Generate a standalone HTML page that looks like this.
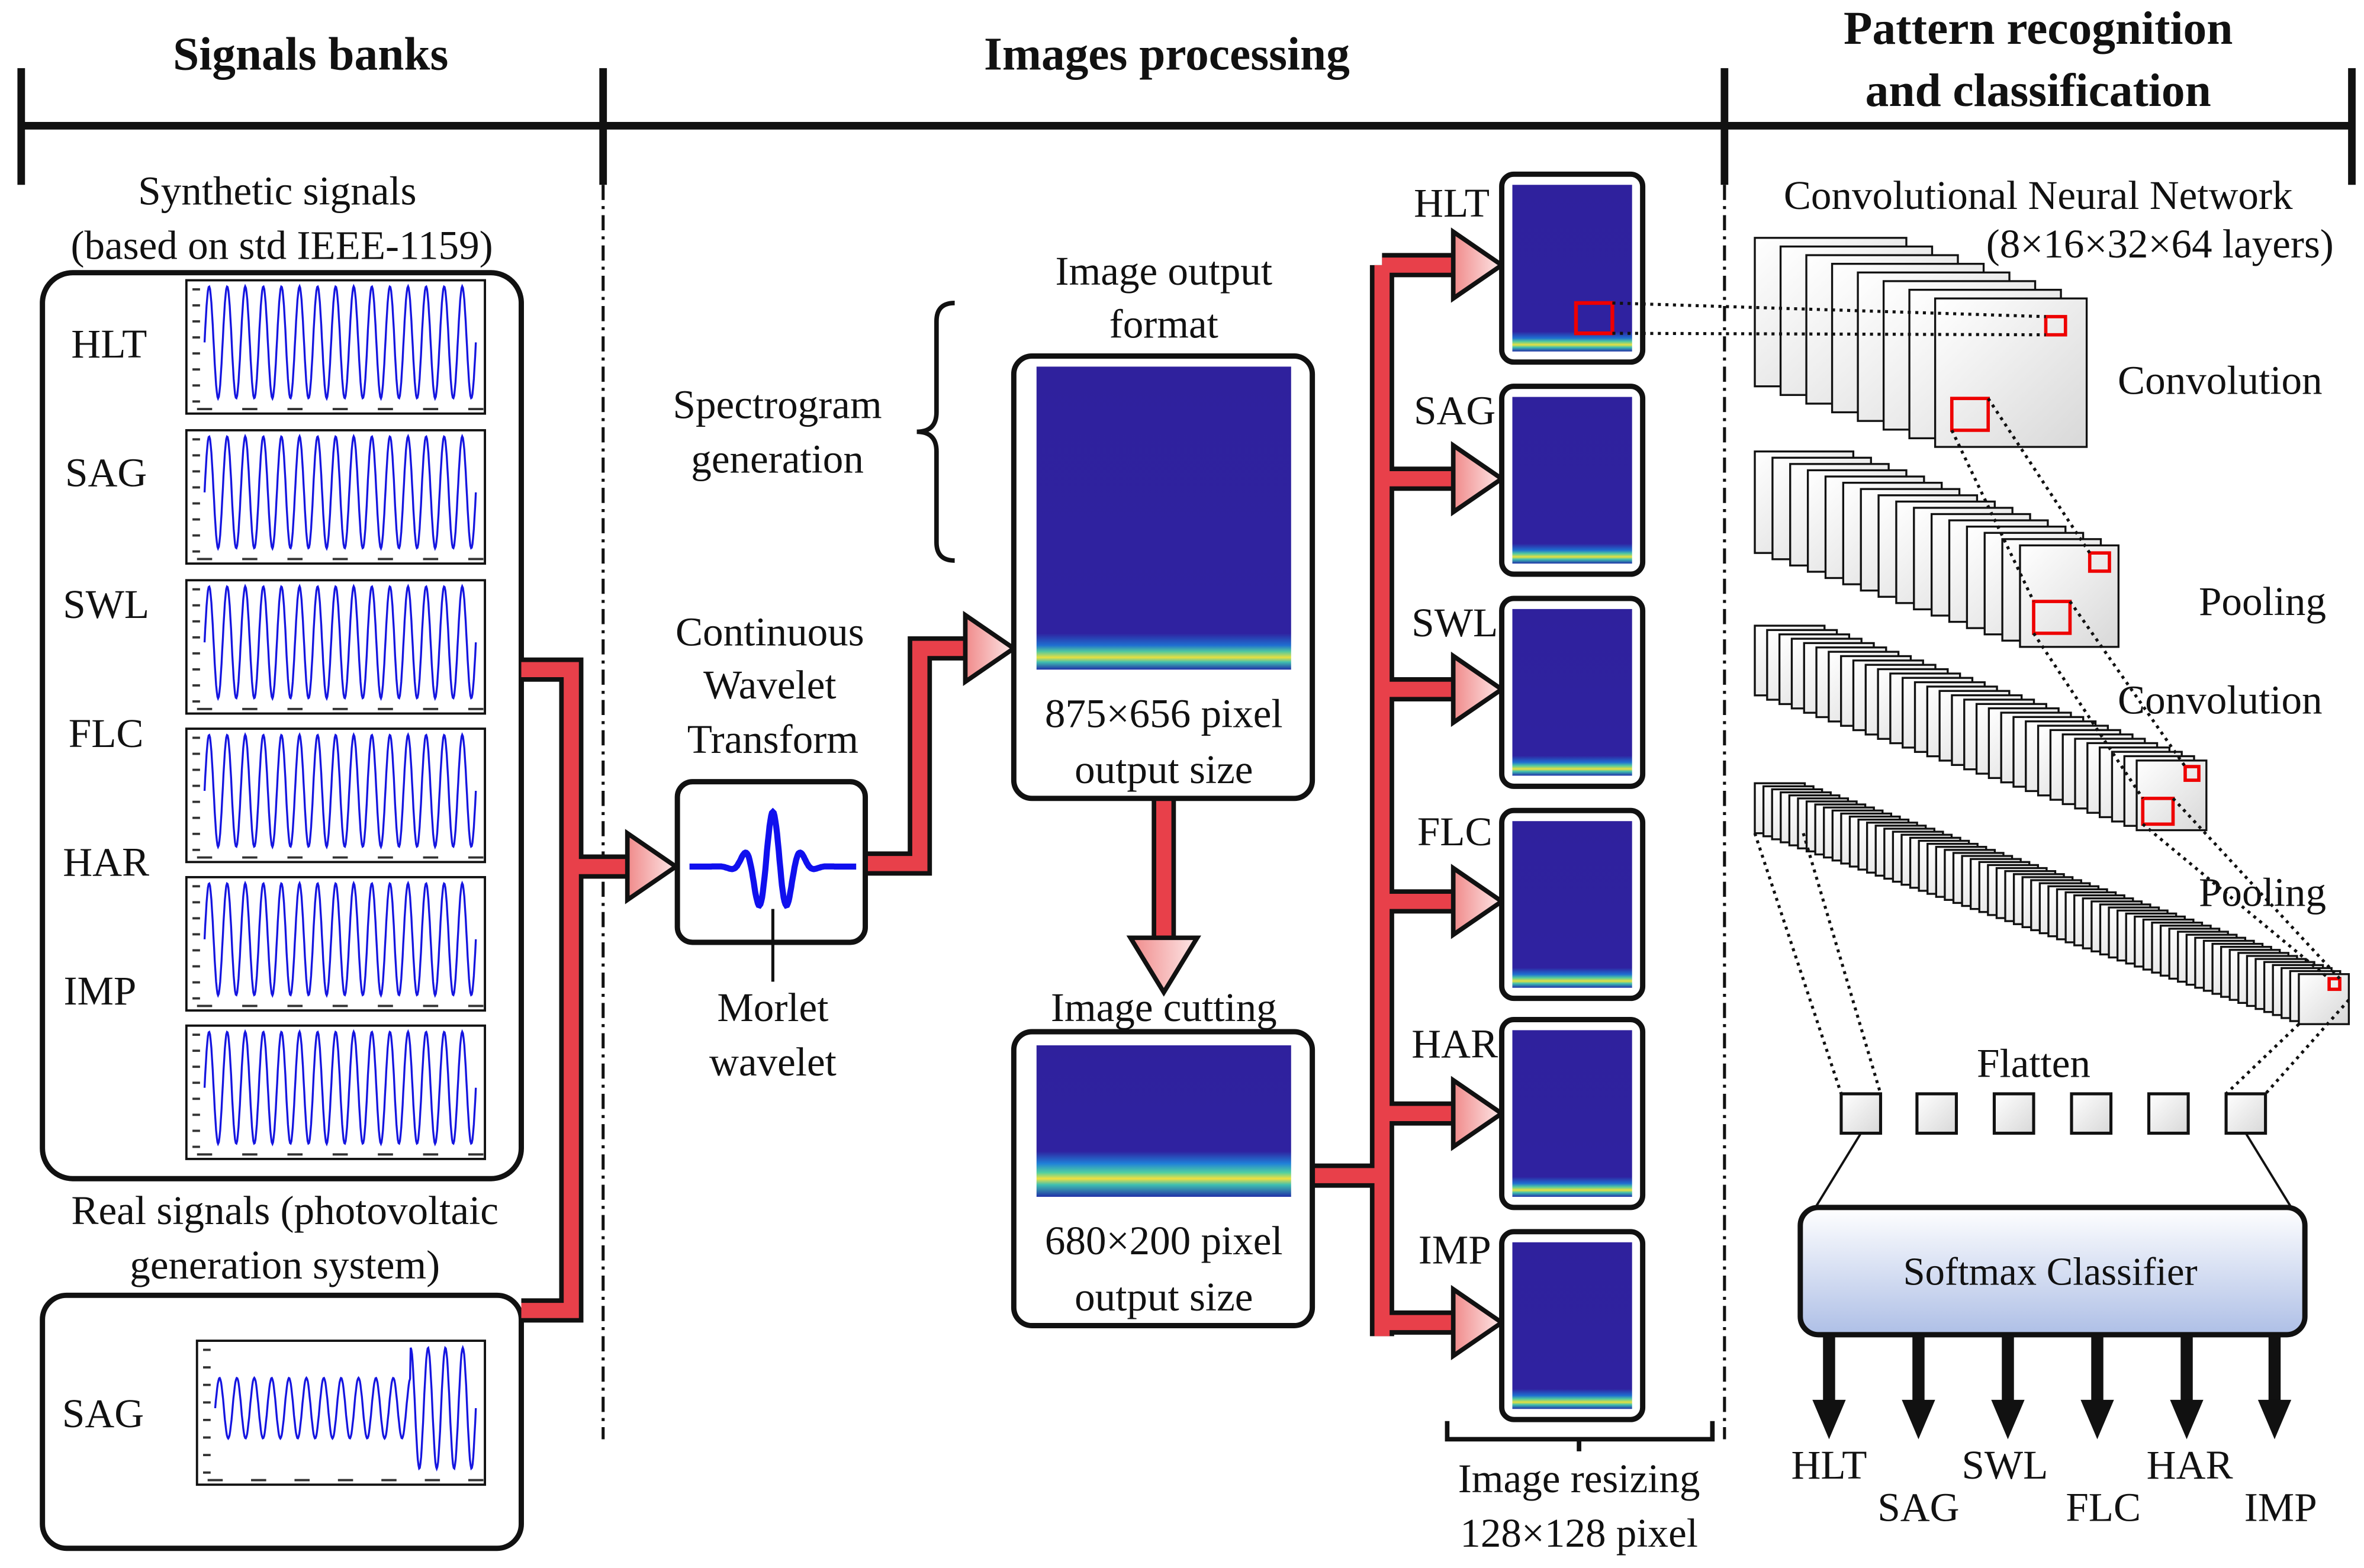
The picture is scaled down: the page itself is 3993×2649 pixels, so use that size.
<!DOCTYPE html>
<html><head><meta charset="utf-8"><style>
html,body{margin:0;padding:0;background:#fff}
svg{display:block}
text{font-family:"Liberation Serif",serif;fill:#111}
</style></head><body>
<svg id="s" width="3993" height="2649" viewBox="0 0 1560 1035" preserveAspectRatio="none" xmlns="http://www.w3.org/2000/svg">
<defs>
<linearGradient id="spec" x1="0" y1="0" x2="0" y2="1">
<stop offset="0" stop-color="#2f219d"/><stop offset="0.88" stop-color="#2f22a0"/><stop offset="0.92" stop-color="#1f6fd0"/><stop offset="0.94" stop-color="#50c8a0"/><stop offset="0.96" stop-color="#e8e040"/><stop offset="0.975" stop-color="#40c0b0"/><stop offset="1" stop-color="#2030a8"/>
</linearGradient>
<linearGradient id="spec2" x1="0" y1="0" x2="0" y2="1">
<stop offset="0" stop-color="#2f219d"/><stop offset="0.70" stop-color="#2f22a0"/><stop offset="0.78" stop-color="#2080d8"/><stop offset="0.84" stop-color="#50d0a0"/><stop offset="0.88" stop-color="#f0e040"/><stop offset="0.92" stop-color="#40c0b0"/><stop offset="1" stop-color="#2030a8"/>
</linearGradient>
<linearGradient id="sq" x1="0" y1="0" x2="1" y2="1"><stop offset="0" stop-color="#fff"/><stop offset="1" stop-color="#d8d8d8"/></linearGradient>
<linearGradient id="soft" x1="0" y1="0" x2="0" y2="1"><stop offset="0" stop-color="#ffffff"/><stop offset="1" stop-color="#aebfe6"/></linearGradient>
<linearGradient id="head" x1="0" y1="0" x2="1" y2="0"><stop offset="0" stop-color="#f08a8a"/><stop offset="1" stop-color="#fde8e8"/></linearGradient>
</defs>
<g stroke="#111" stroke-width="5" fill="none">
<line x1="12" y1="83" x2="1554" y2="83"/>
<line x1="14" y1="45" x2="14" y2="122"/><line x1="398" y1="45" x2="398" y2="122"/>
<line x1="1138" y1="45" x2="1138" y2="122"/><line x1="1552" y1="45" x2="1552" y2="122"/>
</g>
<g stroke="#111" stroke-width="2" stroke-dasharray="10,4,2,4">
<line x1="398" y1="122" x2="398" y2="950"/><line x1="1138" y1="122" x2="1138" y2="950"/>
</g>
<rect x="28" y="180" width="316" height="598" rx="20" fill="none" stroke="#111" stroke-width="3.5"/>
<rect x="28" y="855" width="316" height="167" rx="16" fill="none" stroke="#111" stroke-width="3.5"/>
<g id="plots"></g>
<g id="pipes"></g>
<rect x="447" y="516" width="124" height="106" rx="10" fill="#fff" stroke="#111" stroke-width="3.5"/>
<path id="morlet" fill="none" stroke="#1010ee" stroke-width="4"/>
<line x1="510" y1="600" x2="510" y2="648" stroke="#111" stroke-width="2"/>
<path d="M630 200 Q618 200 618 212 V272 Q618 285 605 285 Q618 285 618 298 V358 Q618 370 630 370" fill="none" stroke="#111" stroke-width="3"/>
<rect x="669" y="235" width="197" height="292" rx="12" fill="#fff" stroke="#111" stroke-width="3.5"/>
<rect x="684" y="242" width="168" height="200" fill="url(#spec)"/>
<rect x="669" y="681" width="197" height="194" rx="12" fill="#fff" stroke="#111" stroke-width="3.5"/>
<rect x="684" y="690" width="168" height="100" fill="url(#spec2)"/>
<g id="small"></g>
<path d="M955 938 V950 H1130 V938 M1042 950 V958" fill="none" stroke="#111" stroke-width="3"/>
<g id="cnn"></g>
<rect x="1188" y="797" width="333" height="84" rx="12" fill="url(#soft)" stroke="#111" stroke-width="3.5"/>
<text x="1353" y="848" font-size="26" text-anchor="middle">Softmax Classifier</text>
<g stroke="#111" stroke-width="1.5"><line x1="1228" y1="748" x2="1198" y2="797"/><line x1="1482" y1="748" x2="1512" y2="797"/></g>
<g id="outs"></g>
<g font-weight="bold" font-size="31" text-anchor="middle">
<text x="205" y="46">Signals banks</text><text x="770" y="46">Images processing</text>
<text x="1345" y="29">Pattern recognition</text><text x="1345" y="70">and classification</text>
</g>
<g font-size="27" text-anchor="middle">
<text x="183" y="135">Synthetic signals</text><text x="186" y="171">(based on  std IEEE-1159)</text>
<text x="188" y="808">Real signals (photovoltaic</text><text x="188" y="844">generation system)</text>
<text x="72" y="236">HLT</text><text x="70" y="321">SAG</text><text x="70" y="408">SWL</text><text x="70" y="493">FLC</text><text x="70" y="578">HAR</text><text x="66" y="663">IMP</text><text x="68" y="942">SAG</text>
<text x="508" y="426">Continuous</text><text x="508" y="461">Wavelet</text><text x="510" y="497">Transform</text>
<text x="510" y="674">Morlet</text><text x="510" y="710">wavelet</text>
<text x="513" y="276">Spectrogram</text><text x="513" y="312">generation</text>
<text x="768" y="188">Image output</text><text x="768" y="223">format</text>
<text x="768" y="480">875×656 pixel</text><text x="768" y="517">output size</text>
<text x="768" y="674">Image cutting</text>
<text x="768" y="828">680×200 pixel</text><text x="768" y="865">output size</text>
<text x="958" y="143">HLT</text><text x="960" y="280">SAG</text><text x="960" y="420">SWL</text><text x="960" y="558">FLC</text><text x="960" y="698">HAR</text><text x="960" y="834">IMP</text>
<text x="1042" y="985">Image resizing</text><text x="1042" y="1021">128×128 pixel</text>
<text x="1345" y="138">Convolutional Neural Network</text><text x="1540" y="170" text-anchor="end">(8×16×32×64 layers)</text>
<text x="1465" y="260">Convolution</text><text x="1493" y="406">Pooling</text><text x="1465" y="471">Convolution</text><text x="1493" y="598">Pooling</text>
<text x="1342" y="711">Flatten</text>
<text x="1207" y="976">HLT</text><text x="1266" y="1004">SAG</text><text x="1323" y="976">SWL</text><text x="1388" y="1004">FLC</text><text x="1445" y="976">HAR</text><text x="1505" y="1004">IMP</text>
</g>
</svg>
<script>
const NS="http://www.w3.org/2000/svg";
function el(p,t,a){const e=document.createElementNS(NS,t);for(const k in a)e.setAttribute(k,a[k]);p.appendChild(e);return e;}
const P=document.getElementById('plots');
const tops=[185,284,383,481,579,677];
function plot(x,y,w,h,amp){
 el(P,'rect',{x:x,y:y,width:w,height:h,fill:'#fff',stroke:'#111','stroke-width':1.5});
 let d='';const x0=x+12,x1=x+w-6,cy=y+h/2-3;
 for(let i=0;i<=400;i++){const t=i/400;const a=amp(t);d+=(i?'L':'M')+(x0+t*(x1-x0)).toFixed(1)+' '+(cy-a*Math.sin(t*2*Math.PI*15)*(h*0.42)).toFixed(1);}
 el(P,'path',{d:d,fill:'none',stroke:'#1515e0','stroke-width':1.3});
 for(let k=0;k<8;k++){el(P,'line',{x1:x+4,x2:x+9,y1:y+6+k*(h-14)/7,y2:y+6+k*(h-14)/7,stroke:'#333','stroke-width':1.5});}
 for(let k=0;k<7;k++){el(P,'line',{x1:x0+k*(x1-x0)/6-5,x2:x0+k*(x1-x0)/6+5,y1:y+h-3,y2:y+h-3,stroke:'#333','stroke-width':1.5});}
}
tops.forEach(t=>plot(123,t,197,88,()=>1));
plot(130,885,190,95,t=>t<0.75?0.5:1);
const G=document.getElementById('pipes');
const pd=["M344 442 H377 V865 H344 M377 572 H415","M571 570 H607 V428 H638","M768 527 V622","M866 776 H912 M912 175 V882 M912 175 H962 M912 316 H962 M912 455 H962 M912 595 H962 M912 735 H962 M912 873 H962"];
pd.forEach(d=>el(G,'path',{d:d,fill:'none',stroke:'#111','stroke-width':16}));
pd.forEach(d=>el(G,'path',{d:d,fill:'none',stroke:'#e8404a','stroke-width':10}));
function head(x,y,dir){
 let pts;
 if(dir==='r')pts=[[x-32,y-12],[x-32,y-22],[x,y],[x-32,y+22],[x-32,y+12]];
 else pts=[[x-12,y-36],[x-22,y-36],[x,y],[x+22,y-36],[x+12,y-36]];
 el(G,'polygon',{points:pts.map(p=>p.join(',')).join(' '),fill:'url(#head)',stroke:'#111','stroke-width':3});
}
head(446,572,'r');head(669,428,'r');head(768,655,'d');
[175,316,455,595,735,873].forEach(y=>head(991,y,'r'));
let d='';for(let i=0;i<=200;i++){const x=-1+2*i/200;const v=Math.exp(-x*x*12)*Math.cos(x*18);d+=(i?'L':'M')+(455+i*0.55).toFixed(1)+' '+(572-v*36).toFixed(1);}
document.getElementById('morlet').setAttribute('d',d);
const S=document.getElementById('small');
[115,255,395,535,673,813].forEach(y=>{el(S,'rect',{x:991,y:y,width:93,height:124,rx:8,fill:'#fff',stroke:'#111','stroke-width':3.5});el(S,'rect',{x:998,y:y+7,width:79,height:110,fill:'url(#spec)'});});
el(S,'rect',{x:1040,y:200,width:24,height:20,fill:'none',stroke:'#e00','stroke-width':2.5});
const C=document.getElementById('cnn');
function stack(n,x0,y0,xf,yf,w,h){for(let i=0;i<n;i++){const t=n>1?i/(n-1):0;el(C,'rect',{x:x0+t*(xf-x0),y:y0+t*(yf-y0),width:w,height:h,fill:'url(#sq)',stroke:'#111','stroke-width':1.3});}}
stack(8,1158,157,1277,197,100,98);
stack(16,1158,298,1333,360,65,67);
stack(32,1158,413,1410,502,46,46);
stack(64,1158,517,1517,643,33,33);
const red=[[1350,209,13,12],[1288,263,24,21],[1379,365,13,12],[1342,397,24,21],[1442,506,9,9],[1414,527,20,17],[1537,646,7,7]];
red.forEach(r=>el(C,'rect',{x:r[0],y:r[1],width:r[2],height:r[3],fill:'none',stroke:'#e00','stroke-width':2.2}));
const dl=[[1064,200,1350,209],[1064,220,1350,221],[1288,284,1342,397],[1312,263,1379,365],[1342,418,1414,527],[1366,397,1442,506],[1414,544,1537,646],[1434,527,1544,646],[1158,550,1215,722],[1190,550,1241,722],[1517,676,1469,722],[1550,660,1495,722]];
dl.forEach(l=>el(C,'line',{x1:l[0],y1:l[1],x2:l[2],y2:l[3],stroke:'#111','stroke-width':2,'stroke-dasharray':'2,3'}));
[1215,1265,1316,1367,1418,1469].forEach(x=>el(C,'rect',{x:x,y:722,width:26,height:26,fill:'url(#sq)',stroke:'#111','stroke-width':2}));
const O=document.getElementById('outs');
[1207,1266,1325,1384,1443,1501].forEach(x=>{el(O,'rect',{x:x-4,y:881,width:8,height:45,fill:'#111'});el(O,'polygon',{points:`${x-11},924 ${x+11},924 ${x},950`,fill:'#111'});});
</script>
</body></html>
